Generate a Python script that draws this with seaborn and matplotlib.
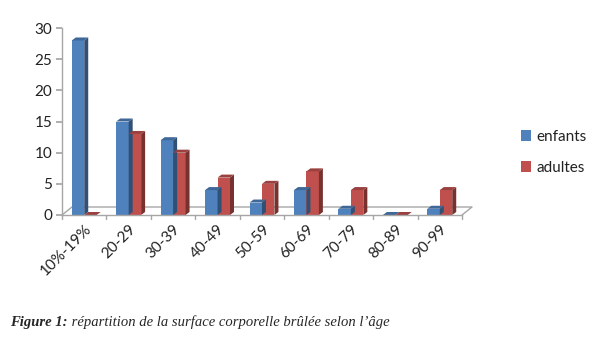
import matplotlib
matplotlib.use("Agg")
import matplotlib.pyplot as plt
import seaborn as sns
import pandas as pd
from matplotlib.patches import Polygon
import matplotlib.colors as mcolors

categories = ["10%-19%", "20-29", "30-39", "40-49", "50-59", "60-69", "70-79", "80-89", "90-99"]
enfants = [28, 15, 12, 4, 2, 4, 1, 0, 1]
adultes = [0, 13, 10, 6, 5, 7, 4, 0, 4]
series_names = ["enfants", "adultes"]
y_ticks = [0, 5, 10, 15, 20, 25, 30]
caption_bold = "Figure 1:"
caption_rest = " répartition de la surface corporelle brûlée selon l’âge"

colors = ["#4F81BD", "#C0504D"]

df = pd.DataFrame({
    "cat": categories * 2,
    "val": enfants + adultes,
    "serie": [series_names[0]] * len(categories) + [series_names[1]] * len(categories),
})

sns.set_theme(style="white")
plt.rcParams["font.family"] = ["Lato", "DejaVu Sans"]

W, H = 600, 339
fig = plt.figure(figsize=(W / 100, H / 100), dpi=100)
fig.patch.set_facecolor("white")

x0, x1 = 62, 462
ytop, ybot = 28, 215
ax = fig.add_axes([x0 / W, (H - ybot) / H, (x1 - x0) / W, (ybot - ytop) / H])

sns.barplot(data=df, x="cat", y="val", hue="serie", palette=colors, ax=ax,
            width=0.56, saturation=1, legend=True, linewidth=0)

ax.set_xlim(-0.5, len(categories) - 0.5)
ax.set_ylim(0, 30)
ax.set_yticks(y_ticks)
ax.set_xlabel("")
ax.set_ylabel("")

px_x = (len(categories)) / (x1 - x0)
px_y = 30 / (ybot - ytop)
dx, dy = 4 * px_x, 3 * px_y

def darker(c, f):
    r, g, b = mcolors.to_rgb(c)
    return (r * f, g * f, b * f)

for p in list(ax.patches):
    x = p.get_x(); w = p.get_width(); h = p.get_height(); y = p.get_y()
    c = p.get_facecolor()
    side = Polygon([[x + w, y], [x + w + dx, y + dy], [x + w + dx, y + h + dy], [x + w, y + h]],
                   closed=True, facecolor=darker(c, 0.62), edgecolor="none", zorder=p.get_zorder())
    top = Polygon([[x, y + h], [x + dx, y + h + dy], [x + w + dx, y + h + dy], [x + w, y + h]],
                  closed=True, facecolor=darker(c, 0.8), edgecolor="none", zorder=p.get_zorder())
    ax.add_patch(side)
    ax.add_patch(top)

fdx, fdy = 10 * px_x, 8 * px_y
gray = "#A6A6A6"
xl, xr = -0.5, len(categories) - 0.5
ax.plot([xl, xl + fdx, xr + fdx, xr], [0, fdy, fdy, 0], color=gray, lw=1, clip_on=False, zorder=0)

for s in ["top", "right"]:
    ax.spines[s].set_visible(False)
for s in ["left", "bottom"]:
    ax.spines[s].set_color(gray)
    ax.spines[s].set_linewidth(1)

ax.tick_params(axis="y", length=4, color=gray, labelsize=11, labelcolor="#222222", left=True, pad=3)
ax.tick_params(axis="x", length=0, labelsize=11, labelcolor="#222222", pad=5)
ax.set_xticks(range(len(categories)))
ax.set_xticklabels(categories, rotation=45, ha="right", rotation_mode="anchor")
for i in range(len(categories) + 1):
    ax.plot([i - 0.5, i - 0.5], [0, -4 * px_y], color=gray, lw=1, clip_on=False)

handles, labels = ax.get_legend_handles_labels()
ax.legend(handles, labels, loc="upper left", bbox_to_anchor=(507 / W, 1 - 116 / H),
          bbox_transform=fig.transFigure, frameon=False, fontsize=11,
          handlelength=0.7, handleheight=0.7, handletextpad=0.3, labelspacing=1.1,
          labelcolor="#222222")

t1 = fig.text(10 / W, 1 - 326 / H, caption_bold, fontfamily="Liberation Serif", fontstyle="italic",
              fontweight="bold", fontsize=10.5, va="baseline", ha="left")
ax.annotate(caption_rest, xy=(1, 0), xycoords=t1, va="bottom", ha="left",
            fontfamily="Liberation Serif", fontstyle="italic", fontsize=10.5,
            annotation_clip=False)

fig.savefig("out.png", dpi=100, facecolor="white")
